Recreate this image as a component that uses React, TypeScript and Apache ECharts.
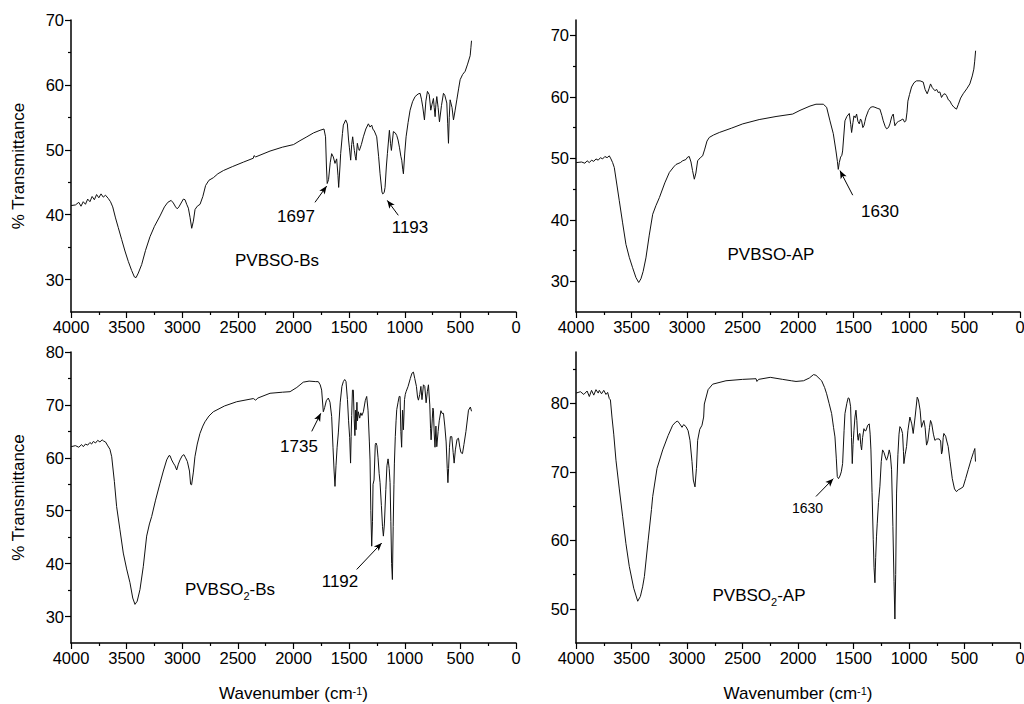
import React, { useEffect, useRef } from "react";
import * as echarts from "echarts";

const FONT = "'Liberation Sans', Arial, Helvetica, sans-serif";

// ---------- PVBSO-Bs ----------
const bsWn = [4000,3960,3930,3910,3890,3870,3850,3830,3810,3790,3770,3750,3730,3710,3690,3665,3645,3625,3600,3575,3545,3515,3485,3455,3430,3415,3395,3365,3330,3290,3250,3200,3160,3130,3100,3080,3060,3045,3030,3010,2990,2975,2960,2945,2930,2915,2900,2885,2865,2840,2815,2790,2760,2720,2680,2630,2550,2450,2361,2355,2340,2211,2100,2000,1942,1880,1820,1762,1726,1712,1704,1697,1685,1670,1657,1642,1627,1612,1600,1594,1582,1576,1560,1552,1531,1516,1505,1498,1486,1477,1468,1460,1453,1445,1438,1426,1417,1408,1390,1372,1350,1327,1312,1297,1285,1276,1252,1235,1222,1205,1198,1185,1177,1165,1156,1138,1128,1120,1110,1102,1085,1072,1060,1048,1035,1027,1018,1012,1000,988,970,952,930,907,880,862,850,838,823,810,796,780,766,755,742,735,727,720,712,700,688,670,652,640,622,614,607,600,592,575,562,548,532,515,502,480,457,435,412,405,400];
const bsT = [41.4,41.5,41.9,41.3,42.0,41.6,42.4,42.0,42.8,42.3,43.1,42.6,43.2,42.7,43.0,42.5,42.0,41.2,39.5,38.0,36.2,34.4,32.8,31.4,30.4,30.3,31.0,32.3,34.5,36.6,38.2,39.8,41.2,41.9,42.2,41.8,41.2,40.9,41.2,41.8,42.4,42.3,41.6,41.0,39.6,37.9,39.0,40.8,41.3,41.6,42.8,44.5,45.3,45.7,46.3,46.8,47.4,48.1,48.7,49.1,48.9,49.8,50.4,50.8,51.4,52.0,52.6,53.0,53.2,52.0,47.5,44.8,45.4,48.0,49.4,48.9,47.9,48.6,46.0,44.2,47.5,49.4,52.5,53.8,54.6,54.0,51.5,50.4,48.4,50.8,52.0,50.8,49.9,49.0,48.4,51.0,50.2,49.9,50.8,52.0,53.2,54.0,53.5,53.8,53.1,53.0,52.0,49.0,46.3,43.5,43.2,43.4,44.2,47.5,49.4,53.0,51.0,49.9,51.5,52.8,52.6,52.2,51.5,50.4,49.0,48.4,47.0,46.3,49.5,52.0,54.2,56.1,57.4,58.2,58.6,58.7,57.8,56.6,54.6,57.5,59.0,58.5,56.1,57.0,57.9,56.5,55.1,57.0,58.2,56.5,54.3,56.8,58.7,58.4,57.2,54.0,51.0,55.0,57.7,56.5,54.6,56.0,57.7,59.5,60.8,61.6,62.1,63.2,64.5,65.8,66.8];

// ---------- PVBSO-AP ----------
const apWn = [4000,3950,3920,3900,3880,3860,3840,3820,3800,3780,3760,3740,3720,3700,3685,3670,3655,3630,3610,3580,3550,3520,3490,3460,3435,3415,3395,3370,3340,3309,3280,3249,3200,3159,3120,3099,3060,3039,3010,2994,2980,2964,2950,2934,2920,2904,2880,2859,2840,2820,2799,2760,2709,2600,2498,2350,2198,2048,1982,1892,1838,1772,1742,1712,1682,1658,1645,1637,1628,1616,1605,1598,1577,1560,1538,1525,1517,1505,1496,1484,1472,1460,1448,1437,1427,1416,1406,1397,1388,1365,1346,1325,1307,1280,1262,1245,1232,1215,1202,1185,1172,1155,1142,1133,1127,1110,1095,1082,1055,1040,1028,1018,1010,995,977,955,932,900,872,855,836,820,806,790,767,750,737,722,707,690,675,662,645,630,617,595,572,555,535,512,480,452,430,416,408,400];
const apT = [49.3,49.4,49.2,49.6,49.3,49.7,49.5,49.9,49.7,50.1,49.9,50.3,50.1,50.4,49.9,49.3,48.5,45.5,43.1,39.5,36.0,33.9,32.2,30.6,29.8,30.4,31.6,33.8,37.5,40.9,42.3,43.6,46.0,47.7,48.6,49.0,49.3,49.6,49.8,50.2,50.3,49.4,48.0,46.6,47.6,49.6,50.1,50.4,51.5,52.8,53.4,53.8,54.2,54.9,55.6,56.3,56.8,57.2,57.8,58.5,58.8,58.8,58.3,56.1,54.0,51.2,49.5,48.2,49.3,50.2,50.5,51.2,56.1,56.8,57.3,55.5,54.2,55.8,56.9,56.6,57.2,56.0,55.6,56.4,56.1,55.0,55.3,56.0,56.7,57.8,58.3,58.4,58.3,58.1,58.0,57.0,56.1,55.2,54.8,55.0,55.6,56.8,57.2,56.0,55.3,55.8,56.0,56.1,56.4,55.9,56.1,57.5,59.3,60.4,61.6,62.3,62.6,62.6,62.4,61.2,60.5,61.3,62.1,61.5,61.0,61.2,60.7,60.8,59.9,60.4,60.5,60.2,59.5,59.3,58.8,58.3,58.0,58.8,59.8,60.5,61.3,62.1,63.4,64.5,65.8,67.5];

// ---------- PVBSO2-Bs ----------
const bs2Wn = [4000,3960,3930,3905,3889,3870,3850,3830,3815,3799,3780,3760,3740,3720,3709,3690,3673,3650,3634,3610,3590,3560,3530,3500,3470,3445,3425,3405,3380,3350,3320,3295,3275,3240,3200,3170,3140,3120,3110,3095,3080,3065,3050,3035,3020,3000,2985,2970,2954,2935,2925,2916,2900,2886,2865,2841,2815,2796,2760,2721,2620,2511,2361,2340,2320,2211,2100,2031,1970,1912,1860,1800,1777,1760,1747,1732,1720,1705,1687,1672,1657,1645,1635,1627,1618,1608,1597,1580,1565,1552,1540,1528,1515,1505,1495,1487,1482,1477,1470,1462,1455,1448,1443,1438,1430,1425,1417,1405,1395,1385,1372,1355,1342,1330,1318,1312,1305,1297,1290,1285,1276,1265,1258,1250,1240,1230,1222,1210,1200,1192,1183,1170,1160,1150,1140,1132,1125,1118,1111,1104,1097,1093,1085,1078,1072,1060,1050,1042,1035,1028,1020,1012,1002,995,988,970,950,935,922,910,895,885,877,865,855,845,832,820,808,797,787,775,768,763,752,747,742,735,728,720,712,700,690,675,665,652,640,628,618,612,606,598,590,577,565,556,545,530,517,505,495,481,468,450,427,410,400];
const bs2T = [62.1,62.3,62.0,62.5,62.1,62.6,62.4,62.9,62.6,63.1,62.8,63.3,63.0,63.4,63.2,63.0,62.4,61.6,60.2,55.5,50.8,46.4,42.0,39.0,36.4,33.5,32.3,32.9,35.1,39.5,45.2,47.5,48.9,52.0,55.2,57.5,59.6,60.4,60.4,59.6,59.0,58.5,57.7,58.8,59.6,60.4,60.6,60.0,59.3,57.5,55.0,54.9,57.3,60.2,62.6,64.6,66.0,66.8,67.9,68.7,69.8,70.6,71.2,70.9,71.3,72.2,72.4,72.5,73.3,74.3,74.5,74.4,74.4,73.8,72.8,68.7,69.5,70.8,71.3,70.5,67.8,62.0,57.5,54.6,58.5,62.0,64.7,70.5,73.5,74.4,74.8,74.4,71.0,67.0,63.8,59.0,64.0,68.0,72.8,72.8,67.5,64.2,69.0,65.3,70.5,67.0,68.7,67.5,68.5,68.0,68.7,70.8,71.6,69.0,63.0,59.6,50.0,43.3,48.0,55.0,55.8,62.5,62.8,62.3,60.0,57.0,55.3,51.0,47.0,45.2,47.5,54.0,58.5,59.8,58.0,55.3,48.0,40.0,37.0,47.0,55.0,59.0,64.0,67.0,69.1,70.5,71.6,71.6,65.0,62.0,69.0,65.3,71.0,72.0,72.5,73.5,75.0,76.0,76.2,75.0,73.5,71.5,70.9,72.0,73.5,71.0,73.8,73.5,70.4,72.5,73.8,70.0,65.5,63.4,67.5,69.4,69.0,64.5,62.0,66.0,62.1,65.0,67.0,68.9,68.4,68.4,66.0,63.0,58.0,55.3,58.0,62.0,64.0,64.0,61.0,59.0,61.5,63.5,63.7,62.0,61.0,60.8,62.5,65.0,69.0,69.6,68.8];

// ---------- PVBSO2-AP ----------
const ap2Wn = [4000,3960,3930,3900,3880,3860,3840,3820,3800,3790,3770,3750,3730,3715,3700,3690,3676,3660,3640,3610,3580,3550,3520,3480,3444,3420,3400,3384,3350,3320,3309,3270,3219,3170,3129,3100,3084,3065,3045,3030,3009,2990,2973,2955,2943,2928,2915,2904,2885,2865,2850,2844,2810,2769,2649,2500,2378,2370,2355,2250,2138,2060,2018,1950,1898,1860,1838,1800,1787,1760,1742,1720,1697,1680,1667,1655,1646,1635,1622,1610,1598,1585,1577,1560,1548,1538,1526,1518,1511,1504,1496,1487,1478,1470,1462,1457,1450,1442,1435,1427,1418,1406,1398,1388,1372,1358,1350,1343,1333,1322,1315,1307,1300,1293,1286,1275,1262,1250,1238,1225,1210,1202,1190,1178,1168,1157,1145,1135,1127,1120,1112,1100,1090,1082,1070,1058,1050,1046,1035,1022,1010,992,975,962,945,926,915,900,887,878,866,855,842,830,815,806,795,780,767,750,740,728,715,707,700,692,686,670,660,647,630,610,590,572,555,540,512,490,467,440,420,407,401];
const ap2T = [81.5,81.7,81.3,81.8,81.0,81.9,81.2,82.0,81.5,81.9,81.4,81.9,81.3,81.6,80.7,80.5,78.0,75.5,71.7,67.5,63.5,59.5,56.2,53.0,51.1,51.8,53.2,54.7,60.0,64.5,66.4,70.5,73.2,75.3,76.8,77.3,77.4,77.0,76.5,76.9,76.6,76.0,74.6,71.5,68.8,67.8,70.5,74.6,76.2,76.8,78.0,79.9,82.0,82.8,83.3,83.5,83.6,83.2,83.5,83.8,83.5,83.3,83.2,83.3,83.7,84.2,84.1,83.5,83.3,82.3,81.4,80.0,78.5,76.5,75.1,72.0,69.3,69.0,69.4,70.0,71.2,76.0,78.5,80.0,80.8,80.7,79.5,75.0,71.2,74.0,76.0,78.0,79.0,77.5,75.0,74.6,75.5,75.6,74.0,73.2,75.0,76.3,76.0,76.0,76.8,77.0,75.5,73.2,67.0,60.1,56.0,53.8,57.5,60.5,62.5,65.5,67.9,71.5,73.2,72.8,72.0,71.7,72.3,73.2,72.5,70.3,62.0,54.0,48.5,55.0,66.9,72.5,75.5,76.6,76.3,75.6,73.0,71.2,72.5,73.7,76.0,78.0,77.0,75.6,78.0,80.9,80.5,79.0,76.5,77.0,77.5,76.5,73.9,74.5,76.5,77.5,77.0,75.5,74.6,74.8,74.8,74.8,74.5,72.6,73.0,75.0,75.6,75.2,74.5,73.7,71.5,69.0,67.5,67.1,67.4,67.5,67.8,69.0,70.3,71.8,72.8,73.4,71.5];

// axis ticks
const xMajorInterval = 500;
const yMajorA = [30, 40, 50, 60, 70];
const yMinorA = [35, 45, 55, 65];
const yMajorC = [30, 40, 50, 60, 70, 80];
const yMinorC = [35, 45, 55, 65, 75];
const yMajorD = [50, 60, 70, 80];
const yMinorD = [55, 65, 75, 85];

// annotation arrows: [from, to] in (wavenumber, %T)
const arrowsA = [
  { from: [1807, 41.9], to: [1702, 44.4], curve: 0 },
  { from: [1058, 39.9], to: [1157, 42.2], curve: 0 },
];
const arrowsB = [{ from: [1507, 44.0], to: [1622, 48.0], curve: 0 }];
const arrowsC = [
  { from: [1836, 65.0], to: [1755, 68.4], curve: 0 },
  { from: [1432, 38.9], to: [1207, 43.9], curve: -0.3 },
];
const arrowsD = [{ from: [1838, 66.4], to: [1682, 69.0], curve: 0 }];

type Panel = {
  wn: number[];
  t: number[];
  grid: { left: number; top: number; width: number; height: number };
  yMin: number;
  yMax: number;
  major: number[];
  minor: number[];
  yName: boolean;
  xName: boolean;
  arrows: { from: number[]; to: number[]; curve: number }[];
};

const panels: Panel[] = [
  { wn: bsWn, t: bsT, grid: { left: 71, top: 20, width: 445, height: 292 }, yMin: 25, yMax: 70, major: yMajorA, minor: yMinorA, yName: true, xName: false, arrows: arrowsA },
  { wn: apWn, t: apT, grid: { left: 576, top: 20, width: 444, height: 292 }, yMin: 25, yMax: 72.5, major: yMajorA, minor: yMinorA, yName: false, xName: false, arrows: arrowsB },
  { wn: bs2Wn, t: bs2T, grid: { left: 71, top: 352, width: 445, height: 291 }, yMin: 25, yMax: 80, major: yMajorC, minor: yMinorC, yName: true, xName: true, arrows: arrowsC },
  { wn: ap2Wn, t: ap2T, grid: { left: 576, top: 352, width: 444, height: 291 }, yMin: 45, yMax: 87.5, major: yMajorD, minor: yMinorD, yName: false, xName: true, arrows: arrowsD },
];

const BLACK = "#000";

function buildOption() {
  const grid: any[] = [];
  const xAxis: any[] = [];
  const yAxis: any[] = [];
  const series: any[] = [];
  panels.forEach((p, i) => {
    grid.push({ ...p.grid, containLabel: false, outerBoundsMode: "none" });
    xAxis.push({
      type: "value",
      gridIndex: i,
      min: 0,
      max: 4000,
      interval: xMajorInterval,
      inverse: true,
      axisLine: { show: true, onZero: false, lineStyle: { color: BLACK, width: 1.5 } },
      axisTick: { show: true, length: 6, lineStyle: { color: BLACK, width: 1.2 } },
      minorTick: { show: true, splitNumber: 2, length: 3, lineStyle: { color: BLACK, width: 1.2 } },
      splitLine: { show: false },
      minorSplitLine: { show: false },
      axisLabel: { color: BLACK, fontSize: 16.5, fontFamily: FONT, margin: 6, formatter: (v: number) => String(v) },
      name: p.xName ? "{a|Wavenumber (cm}{s|-1}{a|)}" : "",
      nameLocation: "middle",
      nameGap: 42,
      nameTextStyle: {
        rich: {
          a: { fontSize: 17, fontFamily: FONT, color: BLACK, lineHeight: 22, verticalAlign: "top" },
          s: { fontSize: 11, fontFamily: FONT, color: BLACK, lineHeight: 10, verticalAlign: "top" },
        },
      },
    });
    yAxis.push({
      type: "value",
      gridIndex: i,
      min: p.yMin,
      max: p.yMax,
      position: "left",
      axisLine: { show: true, onZero: false, lineStyle: { color: BLACK, width: 1.5 } },
      axisTick: { show: true, length: 6, customValues: p.major, lineStyle: { color: BLACK, width: 1.2 } },
      splitLine: { show: false },
      axisLabel: { color: BLACK, fontSize: 16.5, fontFamily: FONT, margin: 7, customValues: p.major, formatter: (v: number) => String(v) },
      name: p.yName ? "% Transmittance" : "",
      nameLocation: "middle",
      nameGap: 44,
      nameMoveOverlap: false,
      nameTextStyle: { color: BLACK, fontSize: 17, fontFamily: FONT },
    });
    // minor ticks: a right-side axis moved onto the left edge, ticks pointing outward (left)
    yAxis.push({
      type: "value",
      gridIndex: i,
      min: p.yMin,
      max: p.yMax,
      position: "right",
      offset: -p.grid.width,
      axisLine: { show: false, onZero: false },
      axisTick: { show: true, inside: true, length: 3, customValues: p.minor, lineStyle: { color: BLACK, width: 1.2 } },
      splitLine: { show: false },
      axisLabel: { show: false },
    });
    series.push({
      type: "line",
      xAxisIndex: i,
      yAxisIndex: i * 2,
      data: p.wn.map((w, k) => [w, p.t[k]]),
      showSymbol: false,
      symbol: "none",
      lineStyle: { color: "#111", width: 1 },
      silent: true,
      emphasis: { disabled: true },
      markLine: {
        silent: true,
        symbol: ["none", "arrow"],
        symbolSize: [5, 8],
        label: { show: false },
        emphasis: { disabled: true },
        lineStyle: { color: BLACK, width: 1, type: "solid" },
        data: p.arrows.map((a) => [
          { coord: a.from, lineStyle: { color: BLACK, width: 1, type: "solid", curveness: a.curve } },
          { coord: a.to },
        ]),
      },
    });
  });

  const txt = (text: string, x: number, y: number, size = 17) => ({
    type: "text",
    silent: true,
    style: { text, x, y, fill: BLACK, fontSize: size, fontFamily: FONT, align: "center", verticalAlign: "middle" },
  });
  const subRich = {
    a: { fontSize: 17, fontFamily: FONT, fill: BLACK, lineHeight: 20, verticalAlign: "top" },
    s: { fontSize: 11, fontFamily: FONT, fill: BLACK, lineHeight: 14, padding: [12, 0, 0, 0], verticalAlign: "bottom" },
  };
  const subTxt = (text: string, x: number, yCenter: number) => ({
    type: "text",
    silent: true,
    style: { text, x, y: yCenter - 10, fill: BLACK, fontSize: 17, fontFamily: FONT, align: "center", verticalAlign: "top", rich: subRich },
  });

  const graphic = [
    txt("1697", 296, 216),
    txt("1193", 410, 227),
    txt("PVBSO-Bs", 277, 260),
    txt("1630", 880, 211.5),
    txt("PVBSO-AP", 771, 254),
    txt("1735", 299, 446),
    txt("1192", 340, 581),
    subTxt("{a|PVBSO}{s|2}{a|-Bs}", 230, 591),
    txt("1630", 807.5, 507.5, 14),
    subTxt("{a|PVBSO}{s|2}{a|-AP}", 759, 597),
  ];

  return {
    animation: false,
    backgroundColor: "#fff",
    textStyle: { fontFamily: FONT },
    grid,
    xAxis,
    yAxis,
    series,
    graphic,
  };
}

export default function App() {
  const ref = useRef<HTMLDivElement | null>(null);
  useEffect(() => {
    if (!ref.current) return;
    const chart = echarts.init(ref.current, undefined, { renderer: "svg" });
    chart.setOption(buildOption() as any);
    return () => chart.dispose();
  }, []);
  return (
    <div
      ref={ref}
      style={{ position: "fixed", left: 0, top: 0, width: 1024, height: 704, background: "#fff" }}
    />
  );
}
